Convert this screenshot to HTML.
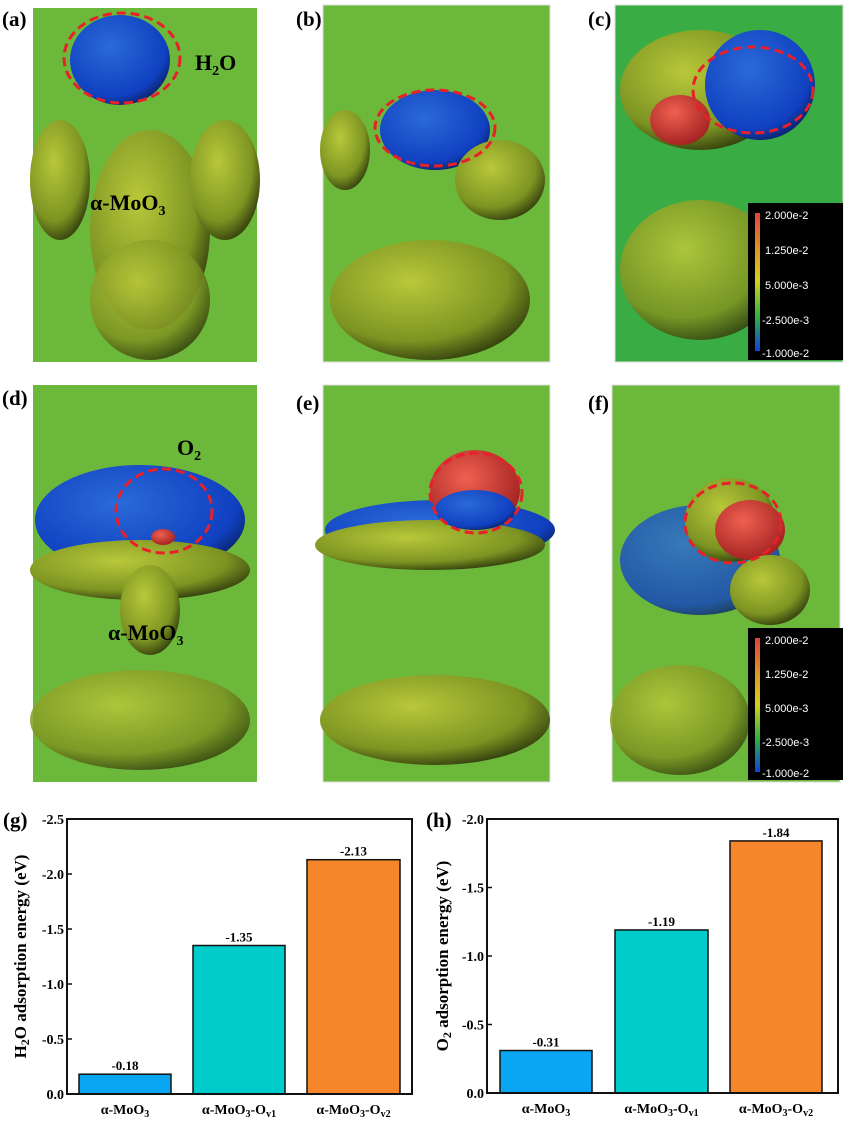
<!DOCTYPE html>
<html><head><meta charset="utf-8"><style>
body{margin:0;background:#fff;width:844px;height:1126px;overflow:hidden}
svg{display:block;font-family:"Liberation Serif",serif}
</style></head><body>
<svg id="s" width="844" height="1126" viewBox="0 0 844 1126">
<defs>
<radialGradient id="olive" cx="40%" cy="35%" r="70%"><stop offset="0" stop-color="#b8c83a"/><stop offset="0.7" stop-color="#7d9422"/><stop offset="1" stop-color="#2e3a0c"/></radialGradient>
<radialGradient id="blue" cx="40%" cy="35%" r="70%"><stop offset="0" stop-color="#2a6ad8"/><stop offset="0.8" stop-color="#1040c0"/><stop offset="1" stop-color="#0a2060"/></radialGradient>
<radialGradient id="red" cx="40%" cy="35%" r="70%"><stop offset="0" stop-color="#f06050"/><stop offset="1" stop-color="#a02020"/></radialGradient>
<linearGradient id="cb" x1="0" y1="0" x2="0" y2="1"><stop offset="0" stop-color="#e04040"/><stop offset="0.3" stop-color="#e0a020"/><stop offset="0.5" stop-color="#d0d020"/><stop offset="0.75" stop-color="#30b040"/><stop offset="1" stop-color="#1040e0"/></linearGradient>
</defs>

<g>
<rect x="33" y="8" width="224" height="354" fill="#6cb83a"/>
<ellipse cx="60" cy="180" rx="30" ry="60" fill="url(#olive)"/>
<ellipse cx="150" cy="230" rx="60" ry="100" fill="url(#olive)"/>
<ellipse cx="225" cy="180" rx="35" ry="60" fill="url(#olive)"/>
<ellipse cx="150" cy="300" rx="60" ry="60" fill="url(#olive)" opacity="0.9"/>
<ellipse cx="120" cy="60" rx="50" ry="45" fill="url(#blue)"/>
<ellipse cx="122" cy="58" rx="58" ry="45" fill="none" stroke="#e8202a" stroke-width="3" stroke-dasharray="9,5"/>
<text x="195" y="70" font-size="22" font-weight="bold">H<tspan font-size="14" dy="5">2</tspan><tspan dy="-5">O</tspan></text>
<text x="90" y="210" font-size="22" font-weight="bold">α-MoO<tspan font-size="14" dy="5">3</tspan></text>
</g>
<g>
<rect x="323" y="5" width="227" height="357" fill="#6cb83a" stroke="#ddd"/>
<ellipse cx="345" cy="150" rx="25" ry="40" fill="url(#olive)"/>
<ellipse cx="435" cy="130" rx="55" ry="40" fill="url(#blue)"/>
<ellipse cx="500" cy="180" rx="45" ry="40" fill="url(#olive)"/>
<ellipse cx="430" cy="300" rx="100" ry="60" fill="url(#olive)"/>
<ellipse cx="435" cy="128" rx="60" ry="38" fill="none" stroke="#e8202a" stroke-width="3" stroke-dasharray="9,5"/>
</g>
<g>
<rect x="615" y="5" width="228" height="357" fill="#3aac44" stroke="#ddd"/>
<ellipse cx="700" cy="90" rx="80" ry="60" fill="url(#olive)"/>
<ellipse cx="760" cy="85" rx="55" ry="55" fill="url(#blue)"/>
<ellipse cx="680" cy="120" rx="30" ry="25" fill="url(#red)"/>
<ellipse cx="700" cy="270" rx="80" ry="70" fill="url(#olive)" opacity="0.9"/>
<ellipse cx="753" cy="90" rx="60" ry="43" fill="none" stroke="#e8202a" stroke-width="3" stroke-dasharray="9,5"/>
</g>
<g>
<rect x="33" y="385" width="224" height="397" fill="#6cb83a"/>
<ellipse cx="140" cy="520" rx="105" ry="55" fill="url(#blue)"/>
<ellipse cx="140" cy="570" rx="110" ry="30" fill="url(#olive)"/>
<ellipse cx="150" cy="610" rx="30" ry="45" fill="url(#olive)"/>
<ellipse cx="140" cy="720" rx="110" ry="50" fill="url(#olive)" opacity="0.85"/>
<ellipse cx="163" cy="537" rx="12" ry="8" fill="url(#red)"/>
<ellipse cx="164" cy="511" rx="48" ry="42" fill="none" stroke="#e8202a" stroke-width="3" stroke-dasharray="9,5"/>
<text x="177" y="455" font-size="22" font-weight="bold">O<tspan font-size="14" dy="5">2</tspan></text>
<text x="108" y="640" font-size="22" font-weight="bold">α-MoO<tspan font-size="14" dy="5">3</tspan></text>
</g>
<g>
<rect x="323" y="385" width="227" height="397" fill="#6cb83a" stroke="#ddd"/>
<ellipse cx="440" cy="530" rx="115" ry="30" fill="url(#blue)"/>
<ellipse cx="430" cy="545" rx="115" ry="25" fill="url(#olive)"/>
<ellipse cx="475" cy="490" rx="45" ry="40" fill="url(#red)"/>
<ellipse cx="475" cy="510" rx="40" ry="20" fill="url(#blue)"/>
<ellipse cx="435" cy="720" rx="115" ry="45" fill="url(#olive)"/>
<ellipse cx="476" cy="493" rx="46" ry="40" fill="none" stroke="#e8202a" stroke-width="3" stroke-dasharray="9,5"/>
</g>
<g>
<rect x="612" y="385" width="228" height="397" fill="#6cb83a" stroke="#ddd"/>
<ellipse cx="700" cy="560" rx="80" ry="55" fill="url(#blue)" opacity="0.8"/>
<ellipse cx="730" cy="520" rx="45" ry="42" fill="url(#olive)"/>
<ellipse cx="750" cy="530" rx="35" ry="30" fill="url(#red)"/>
<ellipse cx="770" cy="590" rx="40" ry="35" fill="url(#olive)"/>
<ellipse cx="680" cy="720" rx="70" ry="55" fill="url(#olive)" opacity="0.85"/>
<ellipse cx="733" cy="523" rx="48" ry="40" fill="none" stroke="#e8202a" stroke-width="3" stroke-dasharray="9,5"/>
</g>
<g font-family="Liberation Sans, sans-serif" font-size="11" fill="#fff">
<rect x="748" y="203" width="95" height="157" fill="#000"/>
<rect x="755" y="213" width="5" height="138" fill="url(#cb)"/>
<text x="765" y="219">2.000e-2</text><text x="765" y="254">1.250e-2</text><text x="765" y="289">5.000e-3</text><text x="762" y="324">-2.500e-3</text><text x="762" y="357">-1.000e-2</text>
</g>
<g font-family="Liberation Sans, sans-serif" font-size="11" fill="#fff">
<rect x="748" y="628" width="95" height="152" fill="#000"/>
<rect x="755" y="638" width="5" height="134" fill="url(#cb)"/>
<text x="765" y="644">2.000e-2</text><text x="765" y="678">1.250e-2</text><text x="765" y="712">5.000e-3</text><text x="762" y="746">-2.500e-3</text><text x="762" y="777">-1.000e-2</text>
</g>
<g font-size="21" font-weight="bold">
<text x="2" y="26">(a)</text><text x="296" y="26">(b)</text><text x="588" y="26">(c)</text>
<text x="2" y="405">(d)</text><text x="296" y="410">(e)</text><text x="588" y="410">(f)</text>
<text x="3" y="827">(g)</text><text x="426" y="827">(h)</text>
</g>
<g id="charts"></g>
</svg>
<script>
const categories=["α-MoO3","α-MoO3-Ov1","α-MoO3-Ov2"];
const h2oValues=[0.18,1.35,2.13];
const o2Values=[0.31,1.19,1.84];
const h2oTicks=[0,0.5,1.0,1.5,2.0,2.5];
const o2Ticks=[0,0.5,1.0,1.5,2.0];
const colors=["#0aa6f4","#00cccc","#f5862a"];
const NS="http://www.w3.org/2000/svg";
const root=document.getElementById('charts');
function mk(t,a,p){const e=document.createElementNS(NS,t);for(const k in a)e.setAttribute(k,a[k]);(p||root).appendChild(e);return e;}
function chart(name,x0,x1,y0,y1,max,ticks,vals,bars,ylab,titleX){
  const g=mk('g',{});
  
  
  const ys=v=>y1-(v/max)*(y1-y0);
  vals.forEach((v,i)=>{
    const r=mk('rect',{x:bars[i][0],y:ys(v),width:bars[i][1]-bars[i][0],height:y1-ys(v),fill:colors[i],stroke:'#111','stroke-width':1.5},g);
    
    
    const t=mk('text',{x:(bars[i][0]+bars[i][1])/2,y:ys(v)-4,'text-anchor':'middle','font-size':13,'font-weight':'bold'},g);
    t.textContent='-'+v.toFixed(2);
    
    
    const c=mk('text',{x:(bars[i][0]+bars[i][1])/2,y:y1+20,'text-anchor':'middle','font-size':14,'font-weight':'bold'},g);
    const p=categories[i].split('-');
    c.innerHTML='α-MoO<tspan font-size="10" dy="3">3</tspan>'+(p.length>2?'<tspan dy="-3">-O</tspan><tspan font-size="10" dy="3">'+p[2].slice(1)+'</tspan>':'');
    
    
  });
  mk('rect',{x:x0,y:y0,width:x1-x0,height:y1-y0,fill:'none',stroke:'#111','stroke-width':2},g);
  ticks.forEach(t=>{
    mk('line',{x1:x0,x2:x0+5,y1:ys(t),y2:ys(t),stroke:'#111','stroke-width':1.5},g);
    const l=mk('text',{x:x0-3,y:ys(t)+5,'text-anchor':'end','font-size':14,'font-weight':'bold'},g);
    l.textContent=t===0?'0.0':'-'+t.toFixed(1);
    
    
  });
  const yt=mk('text',{transform:`translate(${titleX},${(y0+y1)/2}) rotate(-90)`,'text-anchor':'middle','font-size':17,'font-weight':'bold'},g);
  yt.innerHTML=ylab;
  
  
}
chart('h2o-chart',67,412,819,1094,2.5,h2oTicks,h2oValues,[[79,171],[193,285],[307,400]],'H<tspan font-size="12" dy="3">2</tspan><tspan dy="-3">O adsorption energy (eV)</tspan>',26);
chart('o2-chart',487,838,819,1093,2.0,o2Ticks,o2Values,[[500,592],[615,708],[730,822]],'O<tspan font-size="12" dy="3">2</tspan><tspan dy="-3"> adsorption energy (eV)</tspan>',448);
</script>
</body></html>
